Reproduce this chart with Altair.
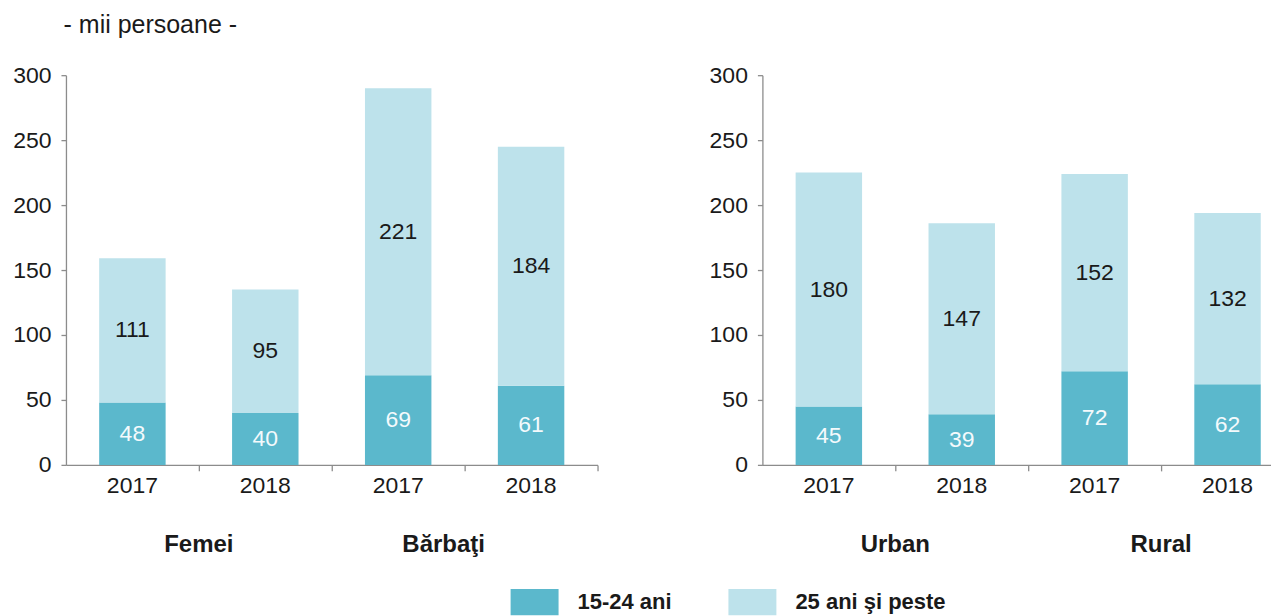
import altair as alt
import pandas as pd

# ---- data ----
panels = ["left", "left", "left", "left", "right", "right", "right", "right"]
groups = ["Femei", "Femei", "Bărbaţi", "Bărbaţi", "Urban", "Urban", "Rural", "Rural"]
years = ["2017", "2018", "2017", "2018", "2017", "2018", "2017", "2018"]
young = [48, 40, 69, 61, 45, 39, 72, 62]          # 15-24 ani
older = [111, 95, 221, 184, 180, 147, 152, 132]   # 25 ani şi peste
ages = ["15-24 ani", "25 ani şi peste"]
colors = ["#5bb8cc", "#bde2eb"]
y_ticks = [0, 50, 100, 150, 200, 250, 300]

rows = []
for i in range(len(groups)):
    cat = groups[i] + " " + years[i]
    rows.append(dict(panel=panels[i], grp=groups[i], year=years[i], cat=cat,
                     age=ages[0], ord=0, value=young[i]))
    rows.append(dict(panel=panels[i], grp=groups[i], year=years[i], cat=cat,
                     age=ages[1], ord=1, value=older[i]))
df = pd.DataFrame(rows)

FONT = "Liberation Sans"
TXT = "#1a1a1a"
AXC = "#8c8c8c"
H = 390
W = 532
STEP = W / 4.0
BW = STEP * 0.5


def panel(pname):
    d = df[df.panel == pname]
    cats = list(dict.fromkeys(d.cat))
    base = alt.Chart(d).transform_stack(
        stack="value", groupby=["cat"], as_=["v0", "v1"],
        sort=[alt.SortField("ord", order="ascending")]
    ).transform_calculate(mid="(datum.v0 + datum.v1) / 2")

    x = alt.X("cat:N", sort=cats,
              scale=alt.Scale(paddingInner=0.5, paddingOuter=0.25),
              axis=alt.Axis(title=None, bandPosition=1.5,
                            labelExpr="slice(datum.value, -4)",
                            labelAngle=0, labelFontSize=23, labelFont=FONT,
                            labelColor=TXT, labelPadding=4,
                            domainColor=AXC, tickColor=AXC,
                            tickSize=6, domainWidth=1.3, tickWidth=1.3))
    y = alt.Y("v0:Q", scale=alt.Scale(domain=[0, 300], nice=False),
              axis=alt.Axis(title=None, values=y_ticks, grid=False,
                            labelFontSize=23, labelFont=FONT,
                            labelColor=TXT, labelPadding=10,
                            domainColor=AXC, tickColor=AXC,
                            tickSize=5, domainWidth=1.3, tickWidth=1.3))

    bars = base.mark_bar().encode(
        x=x, y=y, y2="v1:Q",
        color=alt.Color("age:N", scale=alt.Scale(domain=ages, range=colors),
                        legend=alt.Legend(
                            title=None, orient="none", direction="horizontal",
                            legendX=445, legendY=503,
                            symbolType="M-1,-0.55H1V0.55H-1Z", symbolSize=2304,
                            symbolStrokeWidth=0, symbolOpacity=1,
                            labelFontSize=22, labelFont=FONT,
                            labelFontWeight="bold", labelColor=TXT,
                            labelOffset=19, columnPadding=56)),
    )
    labels = base.mark_text(fontSize=23, font=FONT).encode(
        x=alt.X("cat:N", sort=cats),
        y=alt.Y("mid:Q"),
        text=alt.Text("value:Q"),
        color=alt.condition("datum.ord == 0", alt.value("#f4fafc"),
                            alt.value(TXT)),
    )
    grp_base = base.transform_filter("datum.year == '2017' && datum.ord == 0")
    grp_main = grp_base.transform_filter("datum.grp != 'Bărbaţi'").mark_text(
        fontSize=24, font=FONT, fontWeight="bold", color=TXT,
        dx=BW, baseline="middle").encode(
        x=alt.X("cat:N", sort=cats), y=alt.value(H + 80), text="grp:N")
    grp_shift = grp_base.transform_filter("datum.grp == 'Bărbaţi'").mark_text(
        fontSize=24, font=FONT, fontWeight="bold", color=TXT,
        dx=BW - 21, baseline="middle").encode(
        x=alt.X("cat:N", sort=cats), y=alt.value(H + 80), text="grp:N")
    return alt.layer(bars, labels, grp_main, grp_shift).properties(width=W, height=H)


chart = alt.hconcat(panel("left"), panel("right"), spacing=110).properties(
    title=alt.TitleParams("- mii persoane -", anchor="start", frame="bounds",
                          fontSize=25, font=FONT, fontWeight="normal",
                          color=TXT, dx=51, offset=26),
    padding={"left": 4, "top": 5, "right": -24, "bottom": 0},
).configure_view(stroke=None)

chart.save("out.html", embed_options={"renderer": "svg", "actions": False})
